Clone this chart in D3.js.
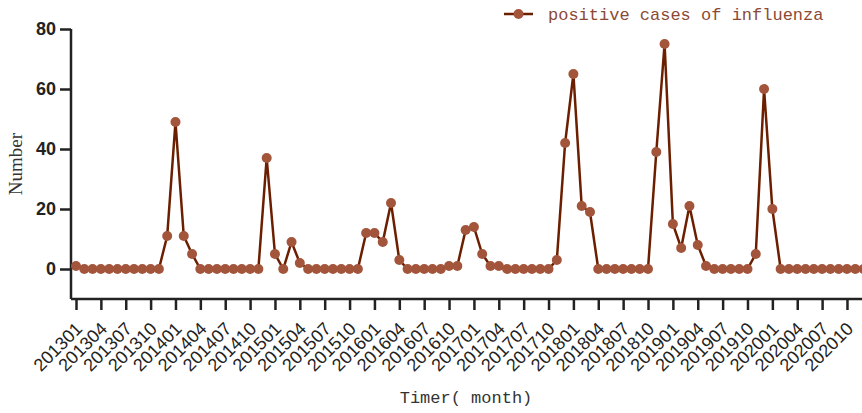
<!DOCTYPE html>
<html>
<head>
<meta charset="utf-8">
<script src="https://cdn.jsdelivr.net/npm/d3@7"></script>
<style>
  body { margin: 0; background: #fff; }
  svg { display: block; }
</style>
</head>
<body>
<div class="chart"></div>
<script>
// monthly labels 201301 .. 202012
const years = [2013, 2014, 2015, 2016, 2017, 2018, 2019, 2020];
const months = [];
years.forEach(function (y) {
  for (let m = 1; m <= 12; m++) months.push(y + (m < 10 ? "0" : "") + m);
});

// positive cases of influenza, one per month
const cases = [
  1, 0, 0, 0, 0, 0, 0, 0, 0, 0, 0, 11,
  49, 11, 5, 0, 0, 0, 0, 0, 0, 0, 0, 37,
  5, 0, 9, 2, 0, 0, 0, 0, 0, 0, 0, 12,
  12, 9, 22, 3, 0, 0, 0, 0, 0, 1, 1, 13,
  14, 5, 1, 1, 0, 0, 0, 0, 0, 0, 3, 42,
  65, 21, 19, 0, 0, 0, 0, 0, 0, 0, 39, 75,
  15, 7, 21, 8, 1, 0, 0, 0, 0, 0, 5, 60,
  20, 0, 0, 0, 0, 0, 0, 0, 0, 0, 0, 0
];

const yTicks = [0, 20, 40, 60, 80];
const seriesName = "positive cases of influenza";

const w = 862;
const h = 413;

const svg = d3.select(".chart")
  .append("svg")
  .attr("width", w)
  .attr("height", h);

// index -> x, last month falls just past the right edge
const x = d3.scaleLinear().domain([0, 95]).range([76, 76 + 95 * 8.29]);
const y = d3.scaleLinear().domain([-10, 80]).range([299, 29]);

const lineColor = "#6b1f00";
const dotColor = "#a3553b";

// y axis
const yAxis = svg.append("g")
  .attr("transform", "translate(71,0)")
  .call(d3.axisLeft(y).tickValues(yTicks).tickSize(11).tickPadding(4).tickSizeOuter(0));
yAxis.select(".domain").attr("d", "M0," + y(80) + "V" + y(-10));
yAxis.selectAll("line, path").attr("stroke", "#222").attr("stroke-width", 2.5);
yAxis.selectAll("text")
  .attr("font-family", "Arial, 'Liberation Sans', sans-serif")
  .attr("font-size", 18)
  .attr("font-weight", "bold")
  .attr("fill", "#222");

// x axis
const tickIdx = d3.range(0, 96, 3);
const xAxis = svg.append("g")
  .attr("transform", "translate(0,299)")
  .call(d3.axisBottom(x).tickValues(tickIdx).tickSize(11).tickSizeOuter(0)
    .tickFormat(function (i) { return months[i]; }));
xAxis.select(".domain").attr("d", "M71,0H" + w);
xAxis.selectAll("line, path").attr("stroke", "#222").attr("stroke-width", 2.5);
xAxis.selectAll("text")
  .attr("font-family", "Arial, 'Liberation Sans', sans-serif")
  .attr("font-size", 18)
  .attr("fill", "#222")
  .attr("text-anchor", "end")
  .attr("dy", null)
  .attr("transform", "translate(-3,21) rotate(-45)");

// line + dots
const line = d3.line()
  .x(function (d, i) { return x(i); })
  .y(function (d) { return y(d); });

svg.append("path")
  .datum(cases)
  .attr("d", line)
  .attr("fill", "none")
  .attr("stroke", lineColor)
  .attr("stroke-width", 2.5);

svg.selectAll(".dot")
  .data(cases)
  .enter()
  .append("circle")
  .attr("class", "dot")
  .attr("cx", function (d, i) { return x(i); })
  .attr("cy", function (d) { return y(d); })
  .attr("r", 5)
  .attr("fill", dotColor);

// axis titles
svg.append("text")
  .attr("x", 466)
  .attr("y", 403)
  .attr("text-anchor", "middle")
  .attr("font-family", "'Liberation Mono', monospace")
  .attr("font-size", 17)
  .attr("fill", "#333")
  .text("Timer( month)");

svg.append("text")
  .attr("transform", "translate(22,164) rotate(-90)")
  .attr("text-anchor", "middle")
  .attr("font-family", "'Liberation Serif', serif")
  .attr("font-size", 19)
  .attr("fill", "#333")
  .text("Number");

// legend
const legend = svg.append("g").attr("transform", "translate(504,14)");
legend.append("line")
  .attr("x1", 0).attr("x2", 29).attr("y1", 0).attr("y2", 0)
  .attr("stroke", lineColor).attr("stroke-width", 2.5);
legend.append("circle").attr("cx", 14.5).attr("cy", 0).attr("r", 5).attr("fill", dotColor);
legend.append("text")
  .attr("x", 44)
  .attr("y", 0)
  .attr("dy", "0.35em")
  .attr("font-family", "'Liberation Mono', monospace")
  .attr("font-size", 17)
  .attr("fill", "#8b4a36")
  .text(seriesName);
</script>
</body>
</html>
